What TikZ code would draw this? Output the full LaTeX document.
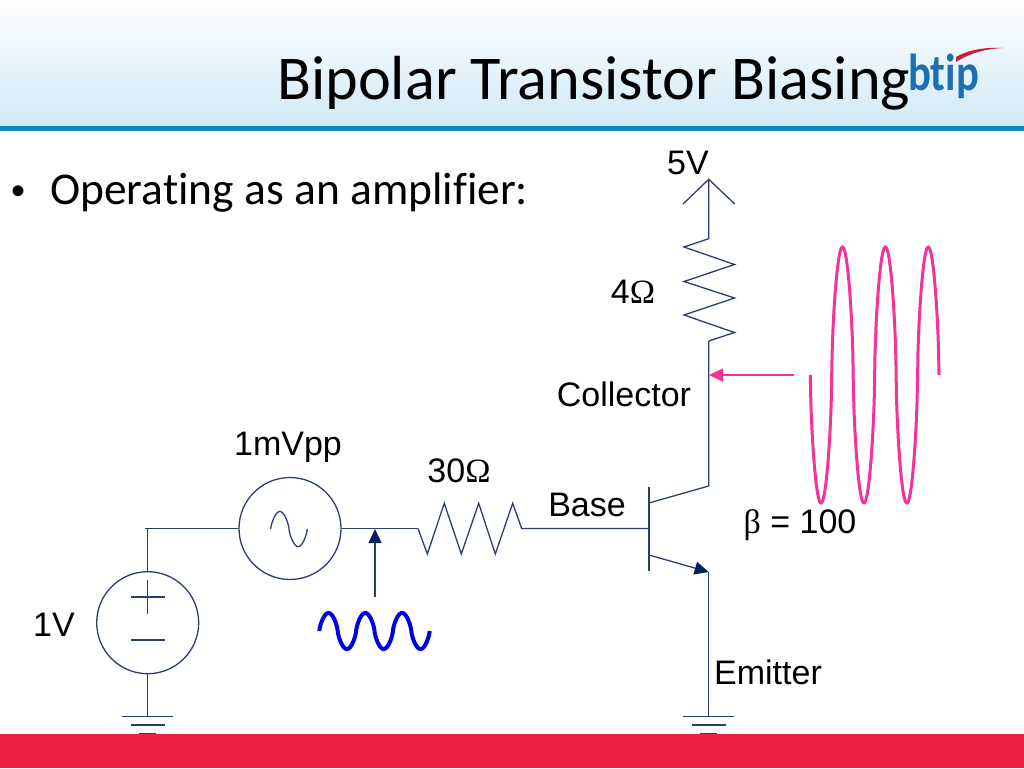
\documentclass[tikz,border=0pt]{standalone}
\usepackage{fontspec}
\setmainfont{Liberation Sans}
\newfontfamily\slidefont[Ligatures=NoCommon]{Carlito}
\newfontfamily\symfont{Liberation Serif}
\usepackage{xcolor}
\usetikzlibrary{arrows.meta}
\definecolor{wirenavy}{RGB}{44,62,110}
\definecolor{headnavy}{RGB}{0,32,96}
\definecolor{sigpink}{RGB}{245,50,150}
\definecolor{sigblue}{RGB}{0,0,230}
\definecolor{ruleblue}{RGB}{14,134,189}
\definecolor{skyblue}{RGB}{208,234,247}
\definecolor{footred}{RGB}{237,32,69}
\definecolor{logoblue}{RGB}{30,110,180}
\tikzset{
    wire/.style={wirenavy, line width=1.3pt},
    srcnode/.style={draw=wirenavy, line width=1.3pt, circle, minimum size=102pt, inner sep=0pt},
    lab/.style={font=\fontsize{34}{38}\selectfont, inner sep=0pt, text=black},
    sighead/.style={-{Triangle[length=14pt,width=13pt,color=#1]}},
}

\begin{document}
\begin{tikzpicture}[x=1pt, y=-1pt]
    \useasboundingbox (0,0) rectangle (1024,768);
    % Header band
    \shade[top color=white, bottom color=skyblue] (0,0) rectangle (1024,126);
    \fill[ruleblue] (0,126) rectangle (1024,131);
    \node[inner sep=0pt, anchor=base west, font=\slidefont\fontsize{62.3}{70}\selectfont] (title) at (277,99) {Bipolar Transistor Biasing};
    \node[inner sep=0pt, anchor=base west, text=logoblue, xscale=0.82, font=\slidefont\bfseries\fontsize{52}{60}\selectfont] (logo) at (908,90) {btip};
    \fill[footred!85!black] (956,57) .. controls (968,50) and (985,47) .. (1003,48) .. controls (985,49) and (970,53) .. (956,62) -- cycle;
    \node[inner sep=0pt, anchor=base west, font=\fontsize{40}{50}\selectfont] (dot) at (11,204) {•};
    \node[inner sep=0pt, anchor=base west, font=\slidefont\fontsize{45.5}{50}\selectfont] (bullet) at (50,204) {Operating as an amplifier:};

    % Junctions
    \coordinate (gndl) at (147.7,716.5);
    \coordinate (gndr) at (708.7,716.5);
    \coordinate (rbin) at (418,528.5);
    \coordinate (rbout) at (521.7,528.5);
    \coordinate (basept) at (649,528.5);
    \coordinate (coll) at (708.7,486);
    \coordinate (emit) at (708.7,572);
    \coordinate (rcin) at (708.7,341);
    \coordinate (rcout) at (708.7,238.7);
    \coordinate (vcc) at (708.7,179.3);

    % Sources
    \node[srcnode] (vdc) at (147.7,622.7) {};
    \node[srcnode] (vac) at (290,528.5) {};
    \draw[wire] (145,528.5) -- (vac.west);
    \draw[wire] (vdc.north) -- (147.7,528.5);
    \draw[wire] (vdc.south) -- (gndl);
    \draw[wire] (vac.east) -- (rbin);
    \draw[wire] (131,597) -- (165,597);
    \draw[wire] (147.7,580) -- (147.7,614);
    \draw[wire] (131,640) -- (165,640);
    \draw[wire] plot[domain=0:360, samples=90] ({270.7+\x/360*36.6},{529-17.5*sin(\x)*pow(abs(sin(\x))+0.001,-0.3)});

    % Grounds
    \foreach \gx in {147.7, 708.7} {
        \draw[wire] (\gx-25.5,716.5) -- (\gx+25.5,716.5);
        \draw[wire] (\gx-17,725) -- (\gx+17,725);
        \draw[wire, line width=2pt] (\gx-8.5,733.5) -- (\gx+8.5,733.5);
    }

    % Resistors
    \draw[wire] (rbin) -- (427.3,554) -- (444.3,503.3) -- (461.3,554) -- (478.7,503.3) -- (495.3,554) -- (512.7,503.3) -- (rbout) -- (basept);
    \draw[wire] (rcin) -- (734.5,332.5) -- (684,315) -- (734.5,298) -- (684,281.5) -- (734.5,264.5) -- (684,247) -- (rcout) -- (vcc);
    \draw[wire] (683,204) -- (vcc) -- (734.7,204);

    % Transistor
    \draw[wire] (649,486.7) -- (649,571);
    \draw[wire] (649,503) -- (coll) -- (rcin);
    \draw[wire, sighead=headnavy] (649,555) -- (emit);
    \draw[wire] (emit) -- (gndr);

    % Signals
    \coordinate (bluetail) at (375,597);
    \coordinate (bluetip) at (375,529);
    \draw[wire, sighead=headnavy] (bluetail) -- (bluetip);
    \draw[sigblue, line width=4pt] plot[domain=0:1080, samples=240] ({319.3+\x/360*36.8},{631-18*sin(\x)*pow(abs(sin(\x))+0.001,-0.3)});
    \coordinate (pinktail) at (793.7,375);
    \coordinate (pinktip) at (709,375);
    \draw[sigpink, line width=1.4pt, sighead=sigpink] (pinktail) -- (pinktip);
    \draw[sigpink, line width=3pt] plot[domain=0:1080, samples=240] ({810.3+\x/360*42.9},{375+128*sin(\x)*pow(abs(sin(\x))+0.001,-0.4)});

    % Labels
    \node[lab] (l5v) at (688,163) {5V};
    \node[lab] (l4r) at (633,292) {4{\symfont Ω}};
    \node[lab] (lcoll) at (624,394) {Collector};
    \node[lab] (lvac) at (288,447) {1mVpp};
    \node[lab] (l30r) at (459,471) {30{\symfont Ω}};
    \node[lab] (lbase) at (587,505) {Base};
    \node[lab] (lbeta) at (800,525) {{\symfont β} = 100};
    \node[lab] (lvdc) at (54,625) {1V};
    \node[lab] (lemit) at (768,672) {Emitter};

    % Footer
    \fill[footred] (0,734) rectangle (1024,768);
\end{tikzpicture}
\end{document}
